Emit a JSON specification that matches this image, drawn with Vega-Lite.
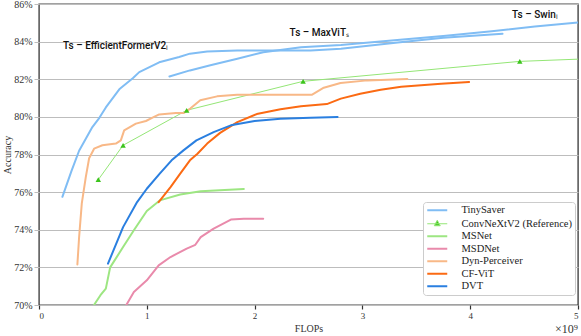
{
  "$schema": "https://vega.github.io/schema/vega-lite/v6.json",
  "width": 539,
  "height": 301,
  "autosize": {"type": "none"},
  "padding": {"left": 39, "top": 4, "right": 3, "bottom": 31},
  "background": "white",
  "config": {
    "view": {"stroke": "#444444", "strokeWidth": 1.4},
    "font": "Liberation Serif",
    "axis": {"labelFont": "Liberation Serif", "titleFont": "Liberation Serif", "labelColor": "#333333", "titleColor": "#333333", "titleFontWeight": "normal", "labelFontSize": 10, "titleFontSize": 10}
  },
  "datasets": {
    "curves": [
      {"model": "TinySaver", "curve": "A", "x": 0.217, "y": 75.75},
      {"model": "TinySaver", "curve": "A", "x": 0.30, "y": 77.1},
      {"model": "TinySaver", "curve": "A", "x": 0.372, "y": 78.2},
      {"model": "TinySaver", "curve": "A", "x": 0.495, "y": 79.46},
      {"model": "TinySaver", "curve": "A", "x": 0.56, "y": 79.95},
      {"model": "TinySaver", "curve": "A", "x": 0.62, "y": 80.5},
      {"model": "TinySaver", "curve": "A", "x": 0.75, "y": 81.5},
      {"model": "TinySaver", "curve": "A", "x": 0.87, "y": 82.05},
      {"model": "TinySaver", "curve": "A", "x": 0.93, "y": 82.38},
      {"model": "TinySaver", "curve": "A", "x": 1.115, "y": 82.9},
      {"model": "TinySaver", "curve": "A", "x": 1.30, "y": 83.18},
      {"model": "TinySaver", "curve": "A", "x": 1.40, "y": 83.36},
      {"model": "TinySaver", "curve": "A", "x": 1.56, "y": 83.48},
      {"model": "TinySaver", "curve": "A", "x": 1.84, "y": 83.53},
      {"model": "TinySaver", "curve": "A", "x": 2.52, "y": 83.53},
      {"model": "TinySaver", "curve": "A", "x": 2.8, "y": 83.62},
      {"model": "TinySaver", "curve": "A", "x": 3.35, "y": 83.97},
      {"model": "TinySaver", "curve": "A", "x": 3.75, "y": 84.2},
      {"model": "TinySaver", "curve": "A", "x": 4.3, "y": 84.42},
      {"model": "TinySaver", "curve": "B", "x": 1.21, "y": 82.15},
      {"model": "TinySaver", "curve": "B", "x": 1.40, "y": 82.47},
      {"model": "TinySaver", "curve": "B", "x": 1.59, "y": 82.74},
      {"model": "TinySaver", "curve": "B", "x": 1.84, "y": 83.09},
      {"model": "TinySaver", "curve": "B", "x": 2.08, "y": 83.44},
      {"model": "TinySaver", "curve": "B", "x": 2.43, "y": 83.7},
      {"model": "TinySaver", "curve": "B", "x": 2.8, "y": 83.82},
      {"model": "TinySaver", "curve": "B", "x": 3.35, "y": 84.1},
      {"model": "TinySaver", "curve": "B", "x": 3.75, "y": 84.3},
      {"model": "TinySaver", "curve": "B", "x": 4.2, "y": 84.55},
      {"model": "TinySaver", "curve": "B", "x": 4.6, "y": 84.8},
      {"model": "TinySaver", "curve": "B", "x": 5.0, "y": 85.02},
      {"model": "ConvNeXtV2 (Reference)", "curve": "C", "x": 0.55, "y": 76.66},
      {"model": "ConvNeXtV2 (Reference)", "curve": "C", "x": 0.78, "y": 78.49},
      {"model": "ConvNeXtV2 (Reference)", "curve": "C", "x": 1.37, "y": 80.35},
      {"model": "ConvNeXtV2 (Reference)", "curve": "C", "x": 2.45, "y": 81.89},
      {"model": "ConvNeXtV2 (Reference)", "curve": "C", "x": 4.46, "y": 82.95},
      {"model": "ConvNeXtV2 (Reference)", "curve": "C", "x": 5.6, "y": 83.2},
      {"model": "MSNet", "curve": "D", "x": 0.51, "y": 70.0},
      {"model": "MSNet", "curve": "D", "x": 0.57, "y": 70.52},
      {"model": "MSNet", "curve": "D", "x": 0.62, "y": 70.87},
      {"model": "MSNet", "curve": "D", "x": 0.66, "y": 72.0},
      {"model": "MSNet", "curve": "D", "x": 0.78, "y": 73.08},
      {"model": "MSNet", "curve": "D", "x": 0.88, "y": 73.97},
      {"model": "MSNet", "curve": "D", "x": 1.0, "y": 75.0},
      {"model": "MSNet", "curve": "D", "x": 1.12, "y": 75.56},
      {"model": "MSNet", "curve": "D", "x": 1.31, "y": 75.87},
      {"model": "MSNet", "curve": "D", "x": 1.5, "y": 76.05},
      {"model": "MSNet", "curve": "D", "x": 1.9, "y": 76.17},
      {"model": "MSDNet", "curve": "E", "x": 0.81, "y": 70.0},
      {"model": "MSDNet", "curve": "E", "x": 0.88, "y": 70.69},
      {"model": "MSDNet", "curve": "E", "x": 1.0, "y": 71.31},
      {"model": "MSDNet", "curve": "E", "x": 1.11, "y": 72.11},
      {"model": "MSDNet", "curve": "E", "x": 1.22, "y": 72.55},
      {"model": "MSDNet", "curve": "E", "x": 1.37, "y": 73.0},
      {"model": "MSDNet", "curve": "E", "x": 1.45, "y": 73.2},
      {"model": "MSDNet", "curve": "E", "x": 1.5, "y": 73.61},
      {"model": "MSDNet", "curve": "E", "x": 1.62, "y": 74.06},
      {"model": "MSDNet", "curve": "E", "x": 1.78, "y": 74.54},
      {"model": "MSDNet", "curve": "E", "x": 1.90, "y": 74.59},
      {"model": "MSDNet", "curve": "E", "x": 2.08, "y": 74.59},
      {"model": "Dyn-Perceiver", "curve": "F", "x": 0.356, "y": 72.15},
      {"model": "Dyn-Perceiver", "curve": "F", "x": 0.372, "y": 73.6},
      {"model": "Dyn-Perceiver", "curve": "F", "x": 0.397, "y": 75.4},
      {"model": "Dyn-Perceiver", "curve": "F", "x": 0.434, "y": 76.8},
      {"model": "Dyn-Perceiver", "curve": "F", "x": 0.465, "y": 77.8},
      {"model": "Dyn-Perceiver", "curve": "F", "x": 0.511, "y": 78.31},
      {"model": "Dyn-Perceiver", "curve": "F", "x": 0.588, "y": 78.49},
      {"model": "Dyn-Perceiver", "curve": "F", "x": 0.713, "y": 78.58},
      {"model": "Dyn-Perceiver", "curve": "F", "x": 0.759, "y": 78.75},
      {"model": "Dyn-Perceiver", "curve": "F", "x": 0.79, "y": 79.28},
      {"model": "Dyn-Perceiver", "curve": "F", "x": 0.899, "y": 79.64},
      {"model": "Dyn-Perceiver", "curve": "F", "x": 0.992, "y": 79.78},
      {"model": "Dyn-Perceiver", "curve": "F", "x": 1.053, "y": 79.96},
      {"model": "Dyn-Perceiver", "curve": "F", "x": 1.115, "y": 80.13},
      {"model": "Dyn-Perceiver", "curve": "F", "x": 1.27, "y": 80.2},
      {"model": "Dyn-Perceiver", "curve": "F", "x": 1.341, "y": 80.2},
      {"model": "Dyn-Perceiver", "curve": "F", "x": 1.403, "y": 80.44},
      {"model": "Dyn-Perceiver", "curve": "F", "x": 1.496, "y": 80.88},
      {"model": "Dyn-Perceiver", "curve": "F", "x": 1.652, "y": 81.09},
      {"model": "Dyn-Perceiver", "curve": "F", "x": 1.837, "y": 81.18},
      {"model": "Dyn-Perceiver", "curve": "F", "x": 2.534, "y": 81.18},
      {"model": "Dyn-Perceiver", "curve": "F", "x": 2.642, "y": 81.55},
      {"model": "Dyn-Perceiver", "curve": "F", "x": 2.797, "y": 81.8},
      {"model": "Dyn-Perceiver", "curve": "F", "x": 3.046, "y": 81.94},
      {"model": "Dyn-Perceiver", "curve": "F", "x": 3.417, "y": 82.01},
      {"model": "CF-ViT", "curve": "G", "x": 1.11, "y": 75.47},
      {"model": "CF-ViT", "curve": "G", "x": 1.22, "y": 76.27},
      {"model": "CF-ViT", "curve": "G", "x": 1.31, "y": 76.98},
      {"model": "CF-ViT", "curve": "G", "x": 1.40, "y": 77.69},
      {"model": "CF-ViT", "curve": "G", "x": 1.47, "y": 78.04},
      {"model": "CF-ViT", "curve": "G", "x": 1.56, "y": 78.58},
      {"model": "CF-ViT", "curve": "G", "x": 1.68, "y": 79.15},
      {"model": "CF-ViT", "curve": "G", "x": 1.84, "y": 79.72},
      {"model": "CF-ViT", "curve": "G", "x": 2.02, "y": 80.15},
      {"model": "CF-ViT", "curve": "G", "x": 2.24, "y": 80.4},
      {"model": "CF-ViT", "curve": "G", "x": 2.43, "y": 80.56},
      {"model": "CF-ViT", "curve": "G", "x": 2.67, "y": 80.68},
      {"model": "CF-ViT", "curve": "G", "x": 2.80, "y": 80.97},
      {"model": "CF-ViT", "curve": "G", "x": 2.98, "y": 81.23},
      {"model": "CF-ViT", "curve": "G", "x": 3.17, "y": 81.44},
      {"model": "CF-ViT", "curve": "G", "x": 3.36, "y": 81.6},
      {"model": "CF-ViT", "curve": "G", "x": 3.73, "y": 81.76},
      {"model": "CF-ViT", "curve": "G", "x": 3.99, "y": 81.85},
      {"model": "DVT", "curve": "H", "x": 0.64, "y": 72.2},
      {"model": "DVT", "curve": "H", "x": 0.78, "y": 74.14},
      {"model": "DVT", "curve": "H", "x": 0.91, "y": 75.47},
      {"model": "DVT", "curve": "H", "x": 1.0, "y": 76.18},
      {"model": "DVT", "curve": "H", "x": 1.12, "y": 76.98},
      {"model": "DVT", "curve": "H", "x": 1.23, "y": 77.69},
      {"model": "DVT", "curve": "H", "x": 1.34, "y": 78.22},
      {"model": "DVT", "curve": "H", "x": 1.46, "y": 78.75},
      {"model": "DVT", "curve": "H", "x": 1.62, "y": 79.19},
      {"model": "DVT", "curve": "H", "x": 1.78, "y": 79.55},
      {"model": "DVT", "curve": "H", "x": 2.0, "y": 79.78},
      {"model": "DVT", "curve": "H", "x": 2.24, "y": 79.9},
      {"model": "DVT", "curve": "H", "x": 2.52, "y": 79.96},
      {"model": "DVT", "curve": "H", "x": 2.77, "y": 79.99}
    ],
    "labels": [
      {"x": 0.71, "y": 83.75, "text": "Ts – EfficientFormerV2ₗ"},
      {"x": 2.6, "y": 84.45, "text": "Ts – MaxViTₛ"},
      {"x": 4.6, "y": 85.4, "text": "Ts – Swinₗ"}
    ],
    "note": [{"x": 5, "y": 70, "text": "×10⁹"}]
  },
  "encoding": {
    "x": {"field": "x", "type": "quantitative", "scale": {"domain": [0, 5], "nice": false},
      "axis": {"values": [0, 1, 2, 3, 4, 5], "format": "d", "title": "FLOPs", "grid": false, "domain": false, "tickColor": "#333333", "tickSize": 4, "tickWidth": 1.2, "labelPadding": 2, "titlePadding": 3, "labelFontSize": 9}},
    "y": {"field": "y", "type": "quantitative", "scale": {"domain": [70, 86], "nice": false, "zero": false},
      "axis": {"values": [70, 72, 74, 76, 78, 80, 82, 84, 86], "labelExpr": "datum.value + '%'", "labelOverlap": false, "title": "Accuracy", "grid": true, "gridColor": "#bdbdbd", "gridWidth": 1.2, "domain": false, "tickColor": "#bdbdbd", "tickSize": 5, "labelPadding": 2, "titlePadding": 1}}
  },
  "layer": [
    {
      "data": {"name": "curves"},
      "mark": {"type": "line", "clip": true, "strokeCap": "round", "strokeJoin": "round"},
      "encoding": {
        "color": {"field": "model", "type": "nominal",
          "scale": {"domain": ["TinySaver", "ConvNeXtV2 (Reference)", "MSNet", "MSDNet", "Dyn-Perceiver", "CF-ViT", "DVT"],
                    "range": ["#80bdf4", "#94e676", "#9de682", "#e98aab", "#f8b887", "#fb6a13", "#2a7fe0"]},
          "legend": {"title": null, "orient": "none", "legendX": 384, "legendY": 198,
            "labelFont": "Liberation Serif", "labelFontSize": 10.5, "labelColor": "#222222",
            "fillColor": "white", "strokeColor": "#cccccc", "cornerRadius": 3, "padding": 3, "rowPadding": 1.5,
            "symbolSize": 100, "symbolOffset": 6, "labelOffset": 19,
            "encode": {"symbols": {"update": {
              "shape": {"signal": "datum.value === 'ConvNeXtV2 (Reference)' ? 'M-2,0H2M0,-0.7L0.6,0.4L-0.6,0.4Z' : 'M-2,0H2'"},
              "fill": {"signal": "datum.value === 'ConvNeXtV2 (Reference)' ? '#3cc41c' : 'transparent'"},
              "strokeWidth": {"signal": "datum.value === 'ConvNeXtV2 (Reference)' ? 1 : 2"}
            }}}}},
        "strokeWidth": {"condition": {"test": "datum.model === 'ConvNeXtV2 (Reference)'", "value": 1}, "value": 2},
        "detail": {"field": "curve"}
      }
    },
    {
      "data": {"name": "curves"},
      "transform": [{"filter": "datum.model === 'ConvNeXtV2 (Reference)'"}],
      "mark": {"type": "point", "shape": "triangle-up", "filled": true, "color": "#3cc41c", "opacity": 1, "size": 30, "clip": true}
    },
    {
      "data": {"name": "labels"},
      "mark": {"type": "text", "font": "Roboto", "fontSize": 10, "fontWeight": 500, "color": "#111111", "baseline": "middle", "align": "center"},
      "encoding": {"text": {"field": "text"}}
    },
    {
      "data": {"name": "note"},
      "mark": {"type": "text", "font": "Liberation Serif", "fontSize": 12, "color": "#333333", "align": "right", "baseline": "alphabetic", "dy": 28, "clip": false},
      "encoding": {"text": {"field": "text"}}
    }
  ]
}
